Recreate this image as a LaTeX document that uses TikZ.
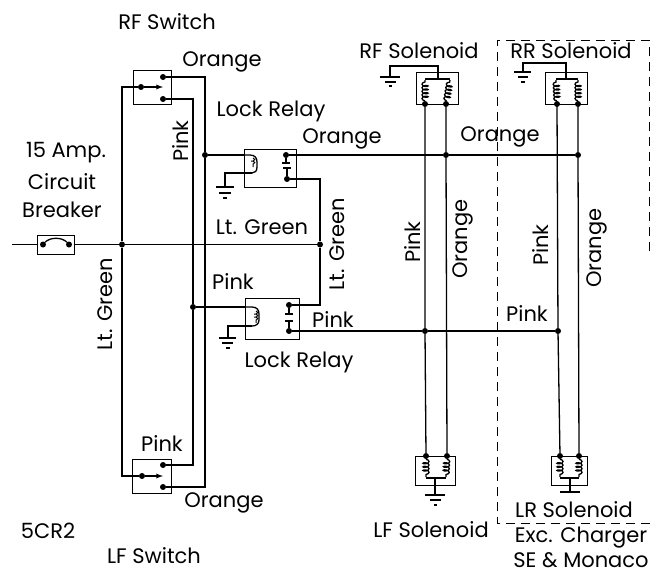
\documentclass[tikz,border=0pt]{standalone}
\usepackage{fontspec}
\setmainfont{Poppins}
\usetikzlibrary{decorations.pathmorphing}
\tikzset{
  wire/.style={line width=1.3pt},
  box/.style={draw, line width=0.7pt, inner sep=0pt, fill=none},
  dot/.style={circle, fill=black, inner sep=0pt, minimum size=6pt},
  label/.style={inner sep=0pt, font=\fontsize{21}{25}\selectfont},
  gnd/.style={line width=1.1pt},
  coilwire/.style={line width=1.3pt, decorate, decoration={coil, aspect=0.45, segment length=3.6pt, amplitude=3pt}},
  relaycoil/.style={line width=1pt, decorate, decoration={coil, aspect=0.45, segment length=3pt, amplitude=1.8pt}}
}
\begin{document}
\begin{tikzpicture}[x=1pt,y=-1pt]
    \useasboundingbox (0,0) rectangle (650,574);

    % Boxes
    \node[box, minimum width=37pt, minimum height=19pt] (breaker) at (55.5,244.5) {};
    \node[box, minimum width=38pt, minimum height=34pt] (rfswitch) at (152,87) {};
    \node[box, minimum width=39pt, minimum height=34pt] (lfswitch) at (151.5,476) {};
    \node[box, minimum width=52pt, minimum height=38pt] (relayup) at (270,168) {};
    \node[box, minimum width=54pt, minimum height=41pt] (relaydown) at (272,318.5) {};
    \node[box, minimum width=42pt, minimum height=32pt] (rfsol) at (437,88) {};
    \node[box, minimum width=42pt, minimum height=32pt] (rrsol) at (566,88) {};
    \node[box, minimum width=40pt, minimum height=29pt] (lfsol) at (435,470.5) {};
    \node[box, minimum width=36pt, minimum height=29pt] (lrsol) at (569,470.5) {};

    % Contacts
    \node[dot] (brkA) at (43,244.5) {};
    \node[dot] (brkB) at (69,244.5) {};
    \node[dot] (rfcom) at (141,87) {};
    \node[dot] (rftop) at (163,77) {};
    \node[dot] (rfbot) at (163,99) {};
    \node[dot] (lfcom) at (142,476) {};
    \node[dot] (lftop) at (163,465) {};
    \node[dot] (lfbot) at (163,487) {};
    \node[dot] (upA) at (286,155) {};
    \node[dot] (upB) at (287,179) {};
    \node[dot] (downA) at (289,305) {};
    \node[dot] (downB) at (289,331) {};
    \node[dot] (rfsolA) at (425,104) {};
    \node[dot] (rfsolB) at (446,104) {};
    \node[dot] (rrsolA) at (557,104) {};
    \node[dot] (rrsolB) at (578,104) {};
    \node[dot] (lfsolA) at (426,456) {};
    \node[dot] (lfsolB) at (447,456) {};
    \node[dot] (lrsolA) at (560,456) {};
    \node[dot] (lrsolB) at (579,456) {};

    % Junctions
    \node[dot] (jgreen) at (122,244.5) {};
    \node[dot] (jrelay) at (320,244.5) {};
    \node[dot] (jorange) at (205,155) {};
    \node[dot] (jpink) at (193,307) {};
    \node[dot] (jrfor) at (446,155) {};
    \node[dot] (jrror) at (578,155) {};
    \node[dot] (jrfpk) at (425,331) {};
    \node[dot] (jrrpk) at (558,331) {};

    % Free ends
    \coordinate (feed) at (12,244.5);
    \coordinate (upcoil) at (252,173);
    \coordinate (downcoil) at (252,326);
    \coordinate (gndup) at (225,187);
    \coordinate (gnddown) at (228,338);
    \coordinate (gndrf) at (390,77);
    \coordinate (gndrr) at (523,72);
    \coordinate (gndlf) at (435,495);
    \coordinate (gndlr) at (570,492);

    % Feed and lt. green lines
    \draw[wire] (feed) -- (breaker.west);
    \draw[wire] (breaker.east) -- (jgreen) -- (jrelay);
    \draw[wire] (brkA) .. controls (50,237) and (62,237) .. (brkB);
    \draw[wire] (jgreen) |- (rfcom);
    \draw[wire] (jgreen) |- (lfcom);
    \draw[wire] (upB) -| (jrelay);
    \draw[wire] (jrelay) |- (downA);

    % Switch arms
    \draw[wire, -latex] (rfcom) -- (163,87);
    \draw[wire, -latex] (lfcom) -- (163,476);

    % Orange and pink between switches
    \draw[wire] (rftop) -| (jorange);
    \draw[wire] (jorange) |- (lfbot);
    \draw[wire] (rfbot) -| (jpink);
    \draw[wire] (jpink) |- (lftop);
    \draw[wire] (jorange) -- (relayup.west |- jorange);
    \draw[wire] (jpink) -- (relaydown.west |- jpink);

    % Relay coils
    \draw[wire] (relayup.west |- jorange) -- (250,155) .. controls (255,155) and (257,158) .. (257,162) -- (257,167) .. controls (257,171) and (255,173) .. (upcoil);
    \draw[wire] (upcoil) -- (gndup |- upcoil) -- (gndup);
    \draw[relaycoil] (253,158) -- (253,167);
    \draw[wire] (relaydown.west |- jpink) -- (252,307) .. controls (257,307) and (259,310) .. (259,314) -- (259,320) .. controls (259,324) and (256,326) .. (downcoil);
    \draw[wire] (downcoil) -- (gnddown |- downcoil) -- (gnddown);
    \draw[relaycoil] (256,311) -- (256,323);
    \draw[wire] (upA) -- ++(0,8);
    \draw[wire] (upB) -- ++(0,-11);
    \draw[wire] (downA) -- ++(0,9);
    \draw[wire] (downB) -- ++(0,-10);
    \draw[wire] (282,163) -- (290,163);
    \draw[wire] (283,168) -- (291,168);
    \draw[wire] (285,314) -- (293,314);
    \draw[wire] (285,321) -- (293,321);

    % Lines to the solenoids
    \draw[wire] (upA) -- (jrfor) -- (jrror);
    \draw[wire] (downB) -- (jrfpk) -- (jrrpk);
    \draw[wire] (rfsolA) -- (jrfpk) -- (lfsolA);
    \draw[wire] (rfsolB) -- (jrfor) -- (lfsolB);
    \draw[wire] (rrsolA) -- (jrrpk) -- (lrsolA);
    \draw[wire] (rrsolB) -- (jrror) -- (lrsolB);

    % Solenoid coils
    \draw[coilwire] (rfsolA) -- (425,80);
    \draw[coilwire] (rfsolB) -- (450,80);
    \draw[wire] (425,79) -- (450,79);
    \draw[coilwire] (rrsolA) -- (556,80);
    \draw[coilwire] (rrsolB) -- (578,80);
    \draw[wire] (556,79) -- (578,79);
    \draw[coilwire] (lfsolA) -- (426,477);
    \draw[coilwire] (lfsolB) -- (446,477);
    \draw[wire] (426,478) -- (446,478);
    \draw[coilwire] (lrsolA) -- (560,477);
    \draw[coilwire] (lrsolB) -- (579,477);
    \draw[wire] (560,478) -- (579,478);

    % Solenoid grounds
    \draw[wire] (438,79) -- (438,66) -| (gndrf);
    \draw[wire] (566,79) -- (566,63) -| (gndrr);
    \draw[wire] (435,478) -- (gndlf);
    \draw[wire] (570,478) -- (gndlr);

    % Ground bars
    \draw[gnd] (216,187) -- (234,187) (219,193) -- (231,193) (223,198) -- (227,198);
    \draw[gnd] (219,338) -- (236,338) (222,343) -- (233,343) (226,348) -- (230,348);
    \draw[gnd] (380,77) -- (400,77) (385,82) -- (396,82) (389,86) -- (392,86);
    \draw[gnd] (514,72) -- (531,72) (518,77) -- (528,77) (521,82) -- (525,82);
    \draw[gnd] (425,495) -- (445,495) (430,500) -- (441,500) (434,505) -- (437,505);
    \draw[gnd] (560,492) -- (580,492);

    % Option box
    \draw[line width=0.7pt, dash pattern=on 9pt off 6pt] (650,523) -- (497,523) -- (497,40) -- (649,40) -- (649,255);

    % Labels
    \node[label] (rfswitchl) at (167,22) {RF Switch};
    \node[label] (rforange) at (222,62) {Orange};
    \node[label] (uprelayl) at (271,111) {Lock Relay};
    \node[label] (uporange) at (342,139) {Orange};
    \node[label] (ampl) at (66,153) {15 Amp.};
    \node[label] (circuitl) at (62,182) {Circuit};
    \node[label] (breakerl) at (62,210) {Breaker};
    \node[label, rotate=90] (rfpink) at (181,141) {Pink};
    \node[label] (greenl) at (262,227) {Lt. Green};
    \node[label, rotate=90] (greenr) at (337,244) {Lt. Green};
    \node[label, rotate=90] (greenleft) at (105,304) {Lt. Green};
    \node[label] (downpinktop) at (233,282) {Pink};
    \node[label] (downpink) at (333,320) {Pink};
    \node[label] (downrelayl) at (299,362) {Lock Relay};
    \node[label] (lfpink) at (162,443) {Pink};
    \node[label] (lforange) at (224,503) {Orange};
    \node[label] (codel) at (48,531) {5CR2};
    \node[label] (lfswitchl) at (154,556) {LF Switch};
    \node[label] (rfsoll) at (419,51) {RF Solenoid};
    \node[label] (rrsoll) at (571,51) {RR Solenoid};
    \node[label] (midorange) at (500,137) {Orange};
    \node[label, rotate=90] (pinkfront) at (413,242) {Pink};
    \node[label, rotate=90] (orangefront) at (463,239) {Orange};
    \node[label, rotate=90] (pinkrear) at (541,245) {Pink};
    \node[label, rotate=90] (orangerear) at (597,248) {Orange};
    \node[label] (rearpink) at (527,314) {Pink};
    \node[label] (lfsoll) at (431,530) {LF Solenoid};
    \node[label] (lrsoll) at (574,510) {LR Solenoid};
    \node[label] (excl) at (581,538) {Exc. Charger};
    \node[label] (monacol) at (581,560) {SE \& Monaco};
  \end{tikzpicture}
\end{document}
